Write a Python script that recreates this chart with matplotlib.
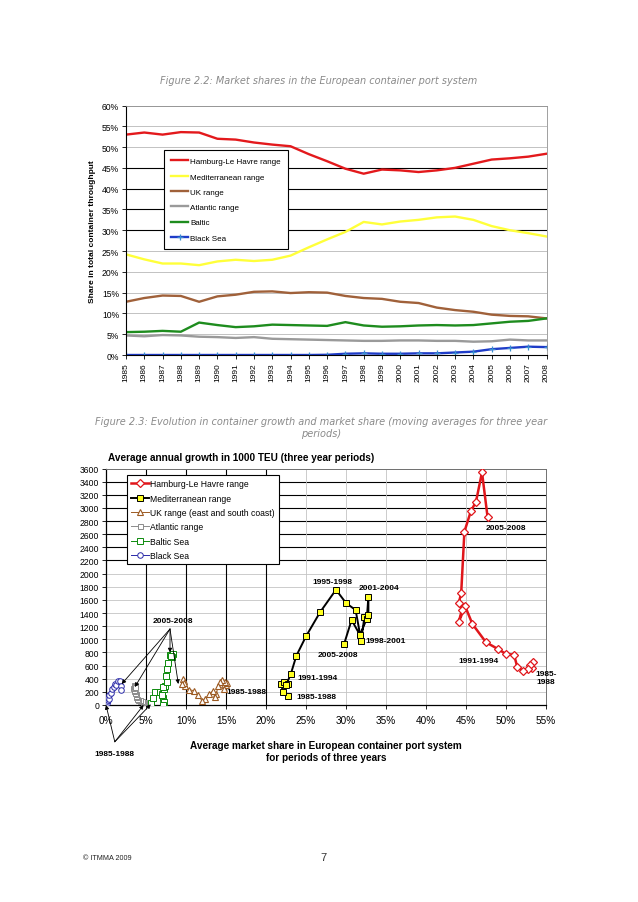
import matplotlib
matplotlib.use('Agg')
import matplotlib.pyplot as plt

W, H = 638, 903

# ---- Figure 2.2 data: market shares (%) ----
years = list(range(1985, 2009))
hamburg = [53.0, 53.5, 53.0, 53.6, 53.5, 52.0, 51.8, 51.1, 50.6, 50.2, 48.3, 46.6,
           44.8, 43.6, 44.6, 44.4, 44.0, 44.4, 45.0, 46.0, 47.0, 47.3, 47.7, 48.4]
mediterranean = [24.2, 23.0, 22.0, 22.0, 21.6, 22.5, 22.9, 22.6, 22.9, 23.9, 25.9, 27.8,
                 29.6, 32.0, 31.4, 32.1, 32.5, 33.1, 33.3, 32.5, 31.0, 30.0, 29.3, 28.5]
uk = [12.8, 13.7, 14.3, 14.2, 12.8, 14.1, 14.5, 15.2, 15.3, 14.9, 15.1, 15.0,
      14.2, 13.7, 13.5, 12.8, 12.5, 11.4, 10.8, 10.4, 9.7, 9.4, 9.3, 8.8]
atlantic = [4.7, 4.5, 4.8, 4.7, 4.4, 4.3, 4.1, 4.3, 3.9, 3.8, 3.7, 3.6,
            3.5, 3.4, 3.4, 3.5, 3.5, 3.4, 3.4, 3.2, 3.3, 3.7, 3.5, 3.5]
baltic = [5.5, 5.6, 5.8, 5.6, 7.8, 7.2, 6.7, 6.9, 7.3, 7.2, 7.1, 7.0,
          7.9, 7.1, 6.8, 6.9, 7.1, 7.2, 7.1, 7.2, 7.6, 8.0, 8.2, 8.8]
black_sea = [0.0, 0.0, 0.0, 0.0, 0.0, 0.0, 0.0, 0.0, 0.0, 0.0, 0.0, 0.05,
             0.3, 0.4, 0.3, 0.3, 0.4, 0.4, 0.6, 0.8, 1.4, 1.7, 2.0, 1.9]

# ---- Figure 2.3 data: share (%) vs growth (1000 TEU), periods 1985-1988 .. 2005-2008 ----
ham_share = [53.3, 53.4, 53.0, 52.8, 52.1, 51.4, 51.0, 50.0, 49.0, 47.5, 45.8,
             44.9, 44.1, 44.5, 44.1, 44.4, 44.8, 45.6, 46.25, 47.0, 47.7]
ham_growth = [560, 659, 609, 548, 520, 583, 766, 776, 852, 954, 1233,
              1502, 1268, 1451, 1553, 1705, 2638, 2948, 3095, 3542, 2857]
med_share = [22.8, 22.1, 21.9, 22.25, 22.7, 22.5, 23.1, 23.8, 25.0, 26.75, 28.75,
             30.0, 31.2, 31.9, 32.3, 32.6, 32.8, 32.8, 31.75, 30.7, 29.75]
med_growth = [132, 203, 320, 345, 325, 300, 472, 751, 1045, 1411, 1755,
              1552, 1446, 979, 1344, 1309, 1649, 1375, 1065, 1294, 924]
uk_share = [15.0, 15.1, 14.9, 14.5, 14.25, 14.7, 14.0, 13.8, 13.6, 13.4, 12.9,
            12.4, 12.0, 11.5, 11.0, 10.4, 9.9, 9.7, 9.6, 9.7, 9.5]
uk_growth = [300, 330, 355, 380, 355, 243, 294, 167, 117, 218, 167,
             91, 66, 150, 218, 233, 294, 370, 390, 330, 320]
atl_share = [4.8, 4.9, 4.7, 4.6, 4.5, 4.3, 4.2, 4.0, 3.9, 3.8, 3.75,
             3.7, 3.6, 3.5, 3.45, 3.4, 3.45, 3.5, 3.6, 3.55, 3.6]
atl_growth = [25, 30, 41, 50, 61, 66, 70, 81, 95, 117, 140,
              167, 190, 208, 230, 258, 280, 300, 310, 290, 270]
bal_share = [5.6, 5.9, 6.1, 6.7, 6.95, 7.1, 7.25, 7.15, 7.0, 7.2, 7.4,
             7.1, 7.6, 7.5, 7.6, 7.8, 8.0, 8.4, 8.3, 8.1]
bal_growth = [30, 110, 193, 193, 167, 102, 41, 5, 150, 243, 294,
              280, 345, 446, 548, 639, 761, 780, 730, 740]
bs_share = [0.0, 0.0, 0.05, 0.0, 0.05, 0.1, 0.1, 0.15, 0.2, 0.3, 0.35,
            0.4, 0.6, 0.8, 1.0, 1.1, 1.3, 1.5, 1.8, 1.9, 1.9]
bs_growth = [0, 10, 20, 35, 25, 45, 30, 60, 80, 110, 95,
             150, 180, 243, 280, 320, 300, 360, 370, 290, 230]

plt.rcParams['font.family'] = ['Liberation Sans', 'DejaVu Sans']


def fx(px):
    return px / W


def fy(py):
    return 1 - py / H


def pct(v):
    return f'{v:g}%'


fig = plt.figure(figsize=(W / 100, H / 100), dpi=100)
fig.patch.set_facecolor('white')

caption = dict(family=['DejaVu Sans'], style='italic', color='#8a8a8a', fontsize=7.0, ha='center')
fig.text(fx(319), fy(81), 'Figure 2.2: Market shares in the European container port system',
         va='center', **caption)
fig.text(fx(321), fy(428), 'Figure 2.3: Evolution in container growth and market share (moving averages for three year\nperiods)',
         va='center', linespacing=1.2, **caption)

# ------------------- Figure 2.2 -------------------
ax1 = fig.add_axes([fx(126), fy(356), fx(546.5) - fx(126), fy(106.5) - fy(356)])
for v in range(5, 61, 5):
    dark = v in (30, 35, 40, 45)
    ax1.axhline(v, color='black' if dark else '#b8b8b8', lw=0.8 if dark else 0.6, zorder=0)

ax1.plot(years, hamburg, color='#e3191c', lw=1.7, label='Hamburg-Le Havre range')
ax1.plot(years, mediterranean, color='#ffff3a', lw=1.7, label='Mediterranean range')
ax1.plot(years, uk, color='#a0613a', lw=1.7, label='UK range')
ax1.plot(years, atlantic, color='#9a9a9a', lw=1.7, label='Atlantic range')
ax1.plot(years, baltic, color='#1e8c1e', lw=1.7, label='Baltic')
ax1.plot(years, black_sea, color='#1f3cc8', lw=1.7, marker='+', ms=4.5, mec='#3a8fd0', mew=0.9,
         label='Black Sea')

ax1.set_xlim(1985, 2008)
ax1.set_ylim(0, 60)
ax1.set_yticks(range(0, 61, 5))
ax1.set_yticklabels([pct(v) for v in range(0, 61, 5)], fontsize=6.2)
ax1.set_xticks(years)
ax1.set_xticklabels([str(y) for y in years], rotation=90, fontsize=6)
ax1.tick_params(axis='both', length=3, width=0.6, pad=2)
for s in ('top', 'right'):
    ax1.spines[s].set_color('#909090')
    ax1.spines[s].set_linewidth(0.6)
for s in ('left', 'bottom'):
    ax1.spines[s].set_linewidth(0.8)
ax1.set_ylabel('Share in total container throughput', fontsize=6, fontweight='bold', labelpad=4)

leg1 = ax1.legend(loc='upper left', bbox_to_anchor=(0.09, 0.82), fontsize=5.8, frameon=True,
                  fancybox=False, edgecolor='black', framealpha=1, handlelength=2.1,
                  labelspacing=0.95, borderpad=0.9, handletextpad=0.3, borderaxespad=0)
leg1.get_frame().set_linewidth(0.8)

# ------------------- Figure 2.3 -------------------
fig.text(fx(108), fy(458), 'Average annual growth in 1000 TEU (three year periods)',
         fontsize=7.2, fontweight='bold', va='center')

ax2 = fig.add_axes([fx(106), fy(706), fx(546) - fx(106), fy(469.5) - fy(706)])
for v in range(200, 3601, 200):
    dark = 2200 <= v <= 3400
    ax2.axhline(v, color='black' if dark else '#c4c4c4', lw=0.8 if dark else 0.6, zorder=0)
for v in range(5, 55, 5):
    dark = 5 <= v <= 20
    ax2.axvline(v, color='black' if dark else '#c4c4c4', lw=0.8 if dark else 0.6, zorder=0)

ax2.plot(ham_share, ham_growth, color='#e0161b', lw=1.8, marker='D', ms=4.2, mfc='white',
         mec='#e0161b', mew=0.9, label='Hamburg-Le Havre range', zorder=3)
ax2.plot(med_share, med_growth, color='black', lw=1.4, marker='s', ms=5, mfc='#ffff22',
         mec='black', mew=0.7, label='Mediterranean range', zorder=3)
ax2.plot(uk_share, uk_growth, color='#9c5a22', lw=0.7, marker='^', ms=5, mfc='white',
         mec='#9c5a22', mew=0.8, label='UK range (east and south coast)', zorder=3)
ax2.plot(atl_share, atl_growth, color='#8c8c8c', lw=0.7, marker='s', ms=3.6, mfc='white',
         mec='#8c8c8c', mew=0.7, label='Atlantic range', zorder=3)
ax2.plot(bal_share, bal_growth, color='#0c8a0c', lw=0.7, marker='s', ms=3.8, mfc='white',
         mec='#0c8a0c', mew=0.7, label='Baltic Sea', zorder=3)
ax2.plot(bs_share, bs_growth, color='#2a2aa8', lw=0.7, marker='o', ms=4, mfc='white',
         mec='#2a2aa8', mew=0.7, label='Black Sea', zorder=3)

ax2.set_xlim(0, 55)
ax2.set_ylim(0, 3600)
ax2.set_xticks(range(0, 56, 5))
ax2.set_xticklabels([pct(v) for v in range(0, 56, 5)], fontsize=7.2)
ax2.set_yticks(range(0, 3601, 200))
ax2.set_yticklabels([str(v) for v in range(0, 3601, 200)], fontsize=6.2)
ax2.tick_params(axis='y', length=3, width=0.6, pad=2)
ax2.tick_params(axis='x', length=3, width=0.6, pad=4)
for s in ('top', 'right'):
    ax2.spines[s].set_color('#707070')
    ax2.spines[s].set_linewidth(0.7)
for s in ('left', 'bottom'):
    ax2.spines[s].set_linewidth(0.9)
ax2.set_xlabel('Average market share in European container port system\nfor periods of three years',
               fontsize=7.2, fontweight='bold', labelpad=11, linespacing=1.2)

leg2 = ax2.legend(loc='upper left', bbox_to_anchor=(0.048, 0.973), fontsize=6.2, frameon=True,
                  fancybox=False, edgecolor='black', framealpha=1, handlelength=2.0,
                  labelspacing=0.62, borderpad=0.5, handletextpad=0.2, borderaxespad=0,
                  numpoints=1)
leg2.get_frame().set_linewidth(0.8)

lab = dict(fontsize=6, fontweight='bold', ha='center', va='center')
ax2.text(50.0, 2709, '2005-2008', **lab)
ax2.text(46.6, 670, '1991-1994', **lab)
ax2.text(55.0, 420, '1985-\n1988', linespacing=1.3, **lab)
ax2.text(28.3, 1887, '1995-1998', **lab)
ax2.text(34.1, 1791, '2001-2004', **lab)
ax2.text(34.9, 979, '1998-2001', **lab)
ax2.text(29.0, 776, '2005-2008', **lab)
ax2.text(26.4, 411, '1991-1994', **lab)
ax2.text(26.25, 126, '1985-1988', **lab)
ax2.text(17.5, 208, '1985-1988', **lab)
ax2.text(8.4, 1283, '2005-2008', **lab)
ax2.text(1.1, -740, '1985-1988', clip_on=False, **lab)

arrow = dict(arrowstyle='-|>', color='black', lw=0.6, mutation_scale=6, shrinkA=0, shrinkB=0)
for tip in [(1.96, 320), (3.6, 274), (8.0, 800), (9.04, 320)]:
    ax2.annotate('', xy=tip, xytext=(8.0, 1157), arrowprops=arrow, annotation_clip=False)
for tip in [(0.0, 0), (4.7, 0), (5.6, 10)]:
    ax2.annotate('', xy=tip, xytext=(1.1, -560), arrowprops=arrow, annotation_clip=False)

# footer
fig.text(fx(83), fy(859), '© ITMMA 2009', fontsize=5.2, va='center', color='#222222')
fig.text(fx(320), fy(858), '7', fontsize=8, va='center', color='#333333')

fig.savefig('out.png', dpi=100)
